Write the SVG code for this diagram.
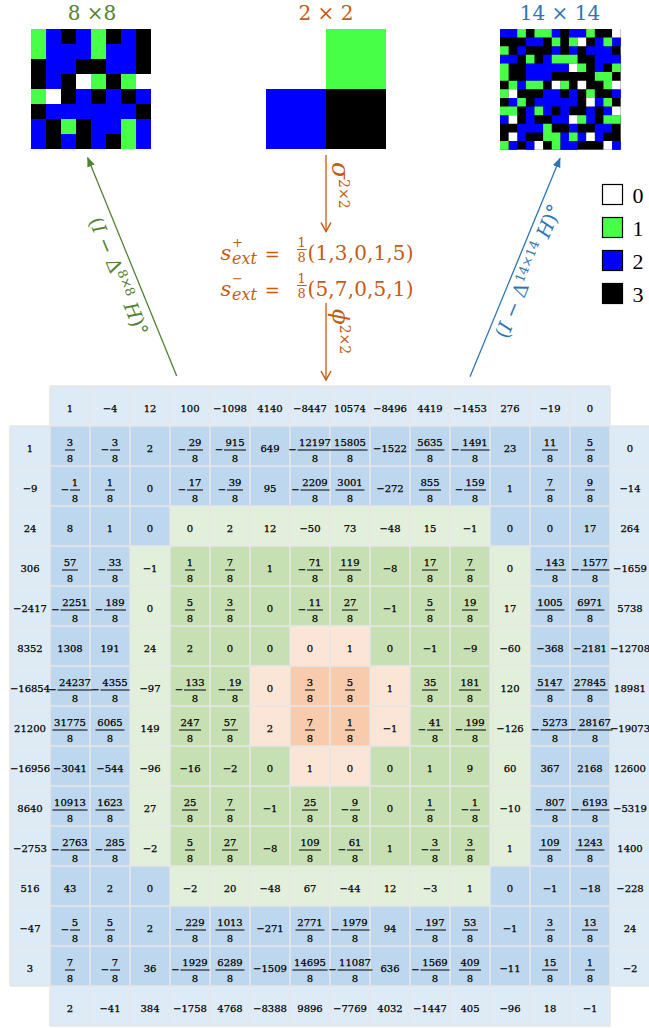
<svg xmlns="http://www.w3.org/2000/svg" width="649" height="1028" viewBox="0 0 649 1028">
<style>
.tb text{font-family:"DejaVu Serif",serif;font-size:10px;text-anchor:middle;fill:#000;stroke:#000;stroke-width:0.25}
.tb path{stroke:#000;stroke-width:1;fill:none}
.lab{font-family:"DejaVu Serif",serif;font-size:20px;text-anchor:middle}
.m{font-family:"DejaVu Serif",serif;fill:#C55A11}
.leg{font-family:"Liberation Serif",serif;font-size:22px;text-anchor:middle;fill:#000}
.it{font-style:italic}
.g{fill:#48FF48}.bl{fill:#0000FF}.k{fill:#000}.w{fill:#fff}
.ob{fill:#DDEBF7}.ib{fill:#BDD7EE}.lg{fill:#E2EFDA}.gr{fill:#C6E0B4}.lo{fill:#FBE5D6}.or{fill:#F8CBAD}
</style>
<defs>
<marker id="mg" viewBox="0 0 10 8" refX="9" refY="4" markerWidth="10" markerHeight="8" markerUnits="userSpaceOnUse" orient="auto"><path d="M0 0L10 4L0 8z" fill="#548235"/></marker>
<marker id="mb" viewBox="0 0 10 8" refX="9" refY="4" markerWidth="10" markerHeight="8" markerUnits="userSpaceOnUse" orient="auto"><path d="M0 0L10 4L0 8z" fill="#2E75B6"/></marker>
<marker id="mo" viewBox="0 0 12 12" refX="10.5" refY="6" markerWidth="12" markerHeight="12" markerUnits="userSpaceOnUse" orient="auto"><path d="M1.5 1L10.5 6L1.5 11" fill="none" stroke="#C55A11" stroke-width="1.5"/></marker>
</defs>
<rect width="649" height="1028" fill="#fff"/>

<g id="img8">
<text class="lab" x="92" y="19.5" fill="#548235">8 ×8</text>
<rect x="31" y="29" width="120" height="120" class="bl"/>
<path class="g" d="M31 29h15v30h-15z M91 29h15v30h-15z M91 74h15v15h-15z M121 74h15v15h-15z M31 89h15v15h-15z M61 119h15v15h-15z M121 119h15v30h-15z"/>
<path class="k" d="M61 29h15v15h-15z M106 29h15v15h-15z M136 29h15v45h-15z M31 59h15v30h-15z M76 59h30v15h-30z M61 74h15v30h-15z M106 74h15v15h-15z M91 89h15v15h-15z M121 89h15v15h-15z M31 104h15v15h-15z M136 104h15v15h-15z M46 119h15v30h-15z M76 119h15v30h-15z M106 134h15v15h-15z"/>
<path class="w" d="M76 74h15v15h-15z M136 74h15v15h-15z M46 89h15v15h-15z"/>
</g>

<g id="img2">
<text class="lab" x="326" y="19.5" fill="#C55A11">2 × 2</text>
<rect x="326" y="29" width="60" height="60" class="g"/>
<rect x="266" y="89" width="60" height="60" class="bl"/>
<rect x="326" y="89" width="60" height="60" class="k"/>
</g>

<g id="img14">
<text class="lab" x="560" y="19.5" fill="#2E75B6">14 × 14</text>
<g transform="translate(500,29) scale(8.62)">
<rect width="14" height="14" class="k"/>
<path class="bl" d="M0 0h2v1h-2z M6 0h1v1h-1z M8 0h2v1h-2z M3 1h2v1h-2z M11 1h1v1h-1z M13 1h1v1h-1z M2 2h1v1h-1z M6 2h1v1h-1z M8 2h1v1h-1z M10 2h3v1h-3z M0 3h2v1h-2z M5 3h1v1h-1z M11 3h3v1h-3z M3 4h5v1h-5z M11 4h1v1h-1z M3 5h3v1h-3z M2 6h1v1h-1z M5 7h2v1h-2z M8 7h1v1h-1z M13 7h1v1h-1z M1 8h1v1h-1z M4 8h5v1h-5z M11 8h1v1h-1z M3 9h1v1h-1z M5 9h1v1h-1z M7 9h1v1h-1z M10 9h1v1h-1z M12 9h1v1h-1z M0 10h1v1h-1z M3 10h1v1h-1z M6 10h2v1h-2z M10 10h1v1h-1z M2 11h3v1h-3z M8 11h1v1h-1z M11 11h2v1h-2z M2 12h1v1h-1z M7 12h1v1h-1z M9 12h1v1h-1z M11 12h1v1h-1z M1 13h1v1h-1z M3 13h1v1h-1z M7 13h2v1h-2z M13 13h1v1h-1z"/>
<path class="g" d="M2 0h1v1h-1z M4 0h2v1h-2z M10 0h1v1h-1z M6 1h1v1h-1z M8 1h1v1h-1z M12 1h1v1h-1z M0 2h1v1h-1z M3 3h1v1h-1z M6 3h3v1h-3z M0 4h1v1h-1z M9 4h1v1h-1z M13 4h1v1h-1z M0 5h1v1h-1z M11 5h2v1h-2z M1 6h1v1h-1z M3 6h2v1h-2z M7 6h1v1h-1z M12 6h1v1h-1z M0 7h1v1h-1z M10 7h1v1h-1z M2 8h1v1h-1z M12 8h1v1h-1z M0 9h2v1h-2z M4 9h1v1h-1z M9 10h1v1h-1z M12 10h2v1h-2z M5 11h1v1h-1z M5 12h2v1h-2z M8 12h1v1h-1z M0 13h1v1h-1z M6 13h1v1h-1z"/>
<path class="w" d="M13 0h1v1h-1z M9 1h1v1h-1z M8 4h1v1h-1z M6 6h1v1h-1z M9 6h1v1h-1z M13 6h1v1h-1z M1 7h1v1h-1z M10 8h1v1h-1z M13 9h1v1h-1z M1 10h1v1h-1z M8 10h1v1h-1z M1 12h1v1h-1z M10 12h1v1h-1z M4 13h1v1h-1z M12 13h1v1h-1z"/>
</g>
</g>

<g id="legend">
<rect x="602.5" y="184.5" width="20" height="20" class="w" stroke="#000" stroke-width="1.2"/>
<rect x="602.5" y="217.5" width="20" height="20" class="g" stroke="#000" stroke-width="1.2"/>
<rect x="602.5" y="250.5" width="20" height="20" class="bl" stroke="#000" stroke-width="1.2"/>
<rect x="602.5" y="283.5" width="20" height="20" class="k" stroke="#000" stroke-width="1.2"/>
<text class="leg" x="638" y="202.5">0</text>
<text class="leg" x="638" y="235.5">1</text>
<text class="leg" x="638" y="268.5">2</text>
<text class="leg" x="638" y="301.5">3</text>
</g>

<g id="connectors" fill="none" stroke-width="1.3">
<path d="M176.7 376L87.7 157.7" stroke="#548235" marker-end="url(#mg)"/>
<path d="M470 376.7L560 158.3" stroke="#2E75B6" marker-end="url(#mb)"/>
<path d="M326 155V231.5" stroke="#C55A11" marker-end="url(#mo)"/>
<path d="M326 303V380" stroke="#C55A11" marker-end="url(#mo)"/>
</g>

<g id="labels">
<text transform="translate(112.4,279) rotate(67.8)" text-anchor="middle" font-family="DejaVu Serif, serif" font-size="19.5" fill="#548235">(<tspan class="it">I</tspan> − Δ<tspan font-size="13" dy="-7">8×8</tspan><tspan dy="7"> </tspan><tspan class="it">H</tspan>)°</text>
<text transform="translate(534.5,273.8) rotate(-67.6)" text-anchor="middle" font-family="DejaVu Serif, serif" font-size="19.5" fill="#2E75B6">(<tspan class="it">I</tspan> − Δ<tspan font-size="13" dy="-7">14×14</tspan><tspan dy="7"> </tspan><tspan class="it">H</tspan>)°</text>
<text transform="translate(332,162) rotate(90)" class="m it" font-size="25">σ<tspan font-size="14" font-style="normal" dy="-7">2×2</tspan></text>
<text transform="translate(333,309) rotate(90)" class="m it" font-size="23">ϕ<tspan font-size="14" font-style="normal" dy="-7">2×2</tspan></text>
</g>

<g id="formula" class="m">
<text x="220.5" y="260" class="it" font-size="21">s</text>
<text x="232" y="247" font-size="13">+</text>
<text x="232" y="264" class="it" font-size="16">ext</text>
<text x="272.3" y="261" font-size="18" text-anchor="middle">=</text>
<text x="301.7" y="247" font-size="13" text-anchor="middle">1</text>
<path d="M297 249.5H306.7" stroke="#C55A11" stroke-width="1"/>
<text x="301.7" y="262" font-size="13" text-anchor="middle">8</text>
<text x="307.5" y="260" font-size="20" textLength="106">(1,3,0,1,5)</text>
<text x="220.5" y="296" class="it" font-size="21">s</text>
<text x="232" y="283" font-size="13">−</text>
<text x="232" y="300" class="it" font-size="16">ext</text>
<text x="272.3" y="297" font-size="18" text-anchor="middle">=</text>
<text x="301.7" y="283" font-size="13" text-anchor="middle">1</text>
<path d="M297 285.5H306.7" stroke="#C55A11" stroke-width="1"/>
<text x="301.7" y="298" font-size="13" text-anchor="middle">8</text>
<text x="307.5" y="296" font-size="20" textLength="106">(5,7,0,5,1)</text>
</g>

<g id="table">
<rect x="50" y="386" width="560" height="40" class="ob"/>
<rect x="50" y="986" width="560" height="40" class="ob"/>
<rect x="10" y="426" width="40" height="560" class="ob"/>
<rect x="610" y="426" width="39" height="560" class="ob"/>
<rect x="50" y="426" width="560" height="560" class="ib"/>
<rect x="130" y="506" width="400" height="400" class="lg"/>
<rect x="130" y="506" width="40" height="40" class="ib"/>
<rect x="490" y="506" width="40" height="40" class="ib"/>
<rect x="130" y="866" width="40" height="40" class="ib"/>
<rect x="490" y="866" width="40" height="40" class="ib"/>
<rect x="170" y="546" width="320" height="320" class="gr"/>
<rect x="250" y="626" width="160" height="160" class="lo"/>
<rect x="250" y="626" width="40" height="40" class="gr"/>
<rect x="370" y="626" width="40" height="40" class="gr"/>
<rect x="250" y="746" width="40" height="40" class="gr"/>
<rect x="370" y="746" width="40" height="40" class="gr"/>
<rect x="290" y="666" width="80" height="80" class="or"/>
<path fill="none" stroke="#E6E6E6" stroke-width="1.6" d="M50 386H610 M10 426H649 M10 466H649 M10 506H649 M10 546H649 M10 586H649 M10 626H649 M10 666H649 M10 706H649 M10 746H649 M10 786H649 M10 826H649 M10 866H649 M10 906H649 M10 946H649 M10 986H649 M50 1026H610 M10 426V986 M50 386V1026 M90 386V1026 M130 386V1026 M170 386V1026 M210 386V1026 M250 386V1026 M290 386V1026 M330 386V1026 M370 386V1026 M410 386V1026 M450 386V1026 M490 386V1026 M530 386V1026 M570 386V1026 M610 386V1026"/>
</g>

<g class="tb" id="values">
<g id="hdr" transform="translate(0,406)">
<text x="70" y="6">1</text><text x="110" y="6">−4</text><text x="150" y="6">12</text><text x="190" y="6">100</text><text x="230" y="6">−1098</text><text x="270" y="6">4140</text><text x="310" y="6">−8447</text><text x="350" y="6">10574</text><text x="390" y="6">−8496</text><text x="430" y="6">4419</text><text x="470" y="6">−1453</text><text x="510" y="6">276</text><text x="550" y="6">−19</text><text x="590" y="6">0</text>
</g>
<g id="r1" transform="translate(0,446)">
<text x="30" y="6">1</text>
<g transform="translate(70,0)"><text>3</text><path d="M-5 4h10"/><text y="16">8</text></g>
<g transform="translate(110,0)"><text x="-5" y="7">−</text><text x="5">3</text><path d="M0 4h10"/><text x="5" y="16">8</text></g>
<text x="150" y="6">2</text>
<g transform="translate(190,0)"><text x="-8" y="7">−</text><text x="5">29</text><path d="M-3 4h16"/><text x="5" y="16">8</text></g>
<g transform="translate(230,0)"><text x="-11" y="7">−</text><text x="5">915</text><path d="M-6 4h22"/><text x="5" y="16">8</text></g>
<text x="270" y="6">649</text>
<g transform="translate(310,0)"><text x="-17.5" y="7">−</text><text x="5">12197</text><path d="M-12.5 4h35"/><text x="5" y="16">8</text></g>
<g transform="translate(350,0)"><text>15805</text><path d="M-17.5 4h35"/><text y="16">8</text></g>
<text x="390" y="6">−1522</text>
<g transform="translate(430,0)"><text>5635</text><path d="M-14.5 4h29"/><text y="16">8</text></g>
<g transform="translate(470,0)"><text x="-14.5" y="7">−</text><text x="5">1491</text><path d="M-9.5 4h29"/><text x="5" y="16">8</text></g>
<text x="510" y="6">23</text>
<g transform="translate(550,0)"><text>11</text><path d="M-8 4h16"/><text y="16">8</text></g>
<g transform="translate(590,0)"><text>5</text><path d="M-5 4h10"/><text y="16">8</text></g>
<text x="630" y="6">0</text>
</g>
<g id="r2" transform="translate(0,486)">
<text x="30" y="6">−9</text>
<g transform="translate(70,0)"><text x="-5" y="7">−</text><text x="5">1</text><path d="M0 4h10"/><text x="5" y="16">8</text></g>
<g transform="translate(110,0)"><text>1</text><path d="M-5 4h10"/><text y="16">8</text></g>
<text x="150" y="6">0</text>
<g transform="translate(190,0)"><text x="-8" y="7">−</text><text x="5">17</text><path d="M-3 4h16"/><text x="5" y="16">8</text></g>
<g transform="translate(230,0)"><text x="-8" y="7">−</text><text x="5">39</text><path d="M-3 4h16"/><text x="5" y="16">8</text></g>
<text x="270" y="6">95</text>
<g transform="translate(310,0)"><text x="-14.5" y="7">−</text><text x="5">2209</text><path d="M-9.5 4h29"/><text x="5" y="16">8</text></g>
<g transform="translate(350,0)"><text>3001</text><path d="M-14.5 4h29"/><text y="16">8</text></g>
<text x="390" y="6">−272</text>
<g transform="translate(430,0)"><text>855</text><path d="M-11 4h22"/><text y="16">8</text></g>
<g transform="translate(470,0)"><text x="-11" y="7">−</text><text x="5">159</text><path d="M-6 4h22"/><text x="5" y="16">8</text></g>
<text x="510" y="6">1</text>
<g transform="translate(550,0)"><text>7</text><path d="M-5 4h10"/><text y="16">8</text></g>
<g transform="translate(590,0)"><text>9</text><path d="M-5 4h10"/><text y="16">8</text></g>
<text x="630" y="6">−14</text>
</g>
<g id="r3" transform="translate(0,526)">
<text x="30" y="6">24</text><text x="70" y="6">8</text><text x="110" y="6">1</text><text x="150" y="6">0</text><text x="190" y="6">0</text><text x="230" y="6">2</text><text x="270" y="6">12</text><text x="310" y="6">−50</text><text x="350" y="6">73</text><text x="390" y="6">−48</text><text x="430" y="6">15</text><text x="470" y="6">−1</text><text x="510" y="6">0</text><text x="550" y="6">0</text><text x="590" y="6">17</text><text x="630" y="6">264</text>
</g>
<g id="r4" transform="translate(0,566)">
<text x="30" y="6">306</text>
<g transform="translate(70,0)"><text>57</text><path d="M-8 4h16"/><text y="16">8</text></g>
<g transform="translate(110,0)"><text x="-8" y="7">−</text><text x="5">33</text><path d="M-3 4h16"/><text x="5" y="16">8</text></g>
<text x="150" y="6">−1</text>
<g transform="translate(190,0)"><text>1</text><path d="M-5 4h10"/><text y="16">8</text></g>
<g transform="translate(230,0)"><text>7</text><path d="M-5 4h10"/><text y="16">8</text></g>
<text x="270" y="6">1</text>
<g transform="translate(310,0)"><text x="-8" y="7">−</text><text x="5">71</text><path d="M-3 4h16"/><text x="5" y="16">8</text></g>
<g transform="translate(350,0)"><text>119</text><path d="M-11 4h22"/><text y="16">8</text></g>
<text x="390" y="6">−8</text>
<g transform="translate(430,0)"><text>17</text><path d="M-8 4h16"/><text y="16">8</text></g>
<g transform="translate(470,0)"><text>7</text><path d="M-5 4h10"/><text y="16">8</text></g>
<text x="510" y="6">0</text>
<g transform="translate(550,0)"><text x="-11" y="7">−</text><text x="5">143</text><path d="M-6 4h22"/><text x="5" y="16">8</text></g>
<g transform="translate(590,0)"><text x="-14.5" y="7">−</text><text x="5">1577</text><path d="M-9.5 4h29"/><text x="5" y="16">8</text></g>
<text x="630" y="6">−1659</text>
</g>
<g id="r5" transform="translate(0,606)">
<text x="30" y="6">−2417</text>
<g transform="translate(70,0)"><text x="-14.5" y="7">−</text><text x="5">2251</text><path d="M-9.5 4h29"/><text x="5" y="16">8</text></g>
<g transform="translate(110,0)"><text x="-11" y="7">−</text><text x="5">189</text><path d="M-6 4h22"/><text x="5" y="16">8</text></g>
<text x="150" y="6">0</text>
<g transform="translate(190,0)"><text>5</text><path d="M-5 4h10"/><text y="16">8</text></g>
<g transform="translate(230,0)"><text>3</text><path d="M-5 4h10"/><text y="16">8</text></g>
<text x="270" y="6">0</text>
<g transform="translate(310,0)"><text x="-8" y="7">−</text><text x="5">11</text><path d="M-3 4h16"/><text x="5" y="16">8</text></g>
<g transform="translate(350,0)"><text>27</text><path d="M-8 4h16"/><text y="16">8</text></g>
<text x="390" y="6">−1</text>
<g transform="translate(430,0)"><text>5</text><path d="M-5 4h10"/><text y="16">8</text></g>
<g transform="translate(470,0)"><text>19</text><path d="M-8 4h16"/><text y="16">8</text></g>
<text x="510" y="6">17</text>
<g transform="translate(550,0)"><text>1005</text><path d="M-14.5 4h29"/><text y="16">8</text></g>
<g transform="translate(590,0)"><text>6971</text><path d="M-14.5 4h29"/><text y="16">8</text></g>
<text x="630" y="6">5738</text>
</g>
<g id="r6" transform="translate(0,646)">
<text x="30" y="6">8352</text><text x="70" y="6">1308</text><text x="110" y="6">191</text><text x="150" y="6">24</text><text x="190" y="6">2</text><text x="230" y="6">0</text><text x="270" y="6">0</text><text x="310" y="6">0</text><text x="350" y="6">1</text><text x="390" y="6">0</text><text x="430" y="6">−1</text><text x="470" y="6">−9</text><text x="510" y="6">−60</text><text x="550" y="6">−368</text><text x="590" y="6">−2181</text><text x="630" y="6">−12708</text>
</g>
<g id="r7" transform="translate(0,686)">
<text x="30" y="6">−16854</text>
<g transform="translate(70,0)"><text x="-17.5" y="7">−</text><text x="5">24237</text><path d="M-12.5 4h35"/><text x="5" y="16">8</text></g>
<g transform="translate(110,0)"><text x="-14.5" y="7">−</text><text x="5">4355</text><path d="M-9.5 4h29"/><text x="5" y="16">8</text></g>
<text x="150" y="6">−97</text>
<g transform="translate(190,0)"><text x="-11" y="7">−</text><text x="5">133</text><path d="M-6 4h22"/><text x="5" y="16">8</text></g>
<g transform="translate(230,0)"><text x="-8" y="7">−</text><text x="5">19</text><path d="M-3 4h16"/><text x="5" y="16">8</text></g>
<text x="270" y="6">0</text>
<g transform="translate(310,0)"><text>3</text><path d="M-5 4h10"/><text y="16">8</text></g>
<g transform="translate(350,0)"><text>5</text><path d="M-5 4h10"/><text y="16">8</text></g>
<text x="390" y="6">1</text>
<g transform="translate(430,0)"><text>35</text><path d="M-8 4h16"/><text y="16">8</text></g>
<g transform="translate(470,0)"><text>181</text><path d="M-11 4h22"/><text y="16">8</text></g>
<text x="510" y="6">120</text>
<g transform="translate(550,0)"><text>5147</text><path d="M-14.5 4h29"/><text y="16">8</text></g>
<g transform="translate(590,0)"><text>27845</text><path d="M-17.5 4h35"/><text y="16">8</text></g>
<text x="630" y="6">18981</text>
</g>
<g id="r8" transform="translate(0,726)">
<text x="30" y="6">21200</text>
<g transform="translate(70,0)"><text>31775</text><path d="M-17.5 4h35"/><text y="16">8</text></g>
<g transform="translate(110,0)"><text>6065</text><path d="M-14.5 4h29"/><text y="16">8</text></g>
<text x="150" y="6">149</text>
<g transform="translate(190,0)"><text>247</text><path d="M-11 4h22"/><text y="16">8</text></g>
<g transform="translate(230,0)"><text>57</text><path d="M-8 4h16"/><text y="16">8</text></g>
<text x="270" y="6">2</text>
<g transform="translate(310,0)"><text>7</text><path d="M-5 4h10"/><text y="16">8</text></g>
<g transform="translate(350,0)"><text>1</text><path d="M-5 4h10"/><text y="16">8</text></g>
<text x="390" y="6">−1</text>
<g transform="translate(430,0)"><text x="-8" y="7">−</text><text x="5">41</text><path d="M-3 4h16"/><text x="5" y="16">8</text></g>
<g transform="translate(470,0)"><text x="-11" y="7">−</text><text x="5">199</text><path d="M-6 4h22"/><text x="5" y="16">8</text></g>
<text x="510" y="6">−126</text>
<g transform="translate(550,0)"><text x="-14.5" y="7">−</text><text x="5">5273</text><path d="M-9.5 4h29"/><text x="5" y="16">8</text></g>
<g transform="translate(590,0)"><text x="-17.5" y="7">−</text><text x="5">28167</text><path d="M-12.5 4h35"/><text x="5" y="16">8</text></g>
<text x="630" y="6">−19073</text>
</g>
<g id="r9" transform="translate(0,766)">
<text x="30" y="6">−16956</text><text x="70" y="6">−3041</text><text x="110" y="6">−544</text><text x="150" y="6">−96</text><text x="190" y="6">−16</text><text x="230" y="6">−2</text><text x="270" y="6">0</text><text x="310" y="6">1</text><text x="350" y="6">0</text><text x="390" y="6">0</text><text x="430" y="6">1</text><text x="470" y="6">9</text><text x="510" y="6">60</text><text x="550" y="6">367</text><text x="590" y="6">2168</text><text x="630" y="6">12600</text>
</g>
<g id="r10" transform="translate(0,806)">
<text x="30" y="6">8640</text>
<g transform="translate(70,0)"><text>10913</text><path d="M-17.5 4h35"/><text y="16">8</text></g>
<g transform="translate(110,0)"><text>1623</text><path d="M-14.5 4h29"/><text y="16">8</text></g>
<text x="150" y="6">27</text>
<g transform="translate(190,0)"><text>25</text><path d="M-8 4h16"/><text y="16">8</text></g>
<g transform="translate(230,0)"><text>7</text><path d="M-5 4h10"/><text y="16">8</text></g>
<text x="270" y="6">−1</text>
<g transform="translate(310,0)"><text>25</text><path d="M-8 4h16"/><text y="16">8</text></g>
<g transform="translate(350,0)"><text x="-5" y="7">−</text><text x="5">9</text><path d="M0 4h10"/><text x="5" y="16">8</text></g>
<text x="390" y="6">0</text>
<g transform="translate(430,0)"><text>1</text><path d="M-5 4h10"/><text y="16">8</text></g>
<g transform="translate(470,0)"><text x="-5" y="7">−</text><text x="5">1</text><path d="M0 4h10"/><text x="5" y="16">8</text></g>
<text x="510" y="6">−10</text>
<g transform="translate(550,0)"><text x="-11" y="7">−</text><text x="5">807</text><path d="M-6 4h22"/><text x="5" y="16">8</text></g>
<g transform="translate(590,0)"><text x="-14.5" y="7">−</text><text x="5">6193</text><path d="M-9.5 4h29"/><text x="5" y="16">8</text></g>
<text x="630" y="6">−5319</text>
</g>
<g id="r11" transform="translate(0,846)">
<text x="30" y="6">−2753</text>
<g transform="translate(70,0)"><text x="-14.5" y="7">−</text><text x="5">2763</text><path d="M-9.5 4h29"/><text x="5" y="16">8</text></g>
<g transform="translate(110,0)"><text x="-11" y="7">−</text><text x="5">285</text><path d="M-6 4h22"/><text x="5" y="16">8</text></g>
<text x="150" y="6">−2</text>
<g transform="translate(190,0)"><text>5</text><path d="M-5 4h10"/><text y="16">8</text></g>
<g transform="translate(230,0)"><text>27</text><path d="M-8 4h16"/><text y="16">8</text></g>
<text x="270" y="6">−8</text>
<g transform="translate(310,0)"><text>109</text><path d="M-11 4h22"/><text y="16">8</text></g>
<g transform="translate(350,0)"><text x="-8" y="7">−</text><text x="5">61</text><path d="M-3 4h16"/><text x="5" y="16">8</text></g>
<text x="390" y="6">1</text>
<g transform="translate(430,0)"><text x="-5" y="7">−</text><text x="5">3</text><path d="M0 4h10"/><text x="5" y="16">8</text></g>
<g transform="translate(470,0)"><text>3</text><path d="M-5 4h10"/><text y="16">8</text></g>
<text x="510" y="6">1</text>
<g transform="translate(550,0)"><text>109</text><path d="M-11 4h22"/><text y="16">8</text></g>
<g transform="translate(590,0)"><text>1243</text><path d="M-14.5 4h29"/><text y="16">8</text></g>
<text x="630" y="6">1400</text>
</g>
<g id="r12" transform="translate(0,886)">
<text x="30" y="6">516</text><text x="70" y="6">43</text><text x="110" y="6">2</text><text x="150" y="6">0</text><text x="190" y="6">−2</text><text x="230" y="6">20</text><text x="270" y="6">−48</text><text x="310" y="6">67</text><text x="350" y="6">−44</text><text x="390" y="6">12</text><text x="430" y="6">−3</text><text x="470" y="6">1</text><text x="510" y="6">0</text><text x="550" y="6">−1</text><text x="590" y="6">−18</text><text x="630" y="6">−228</text>
</g>
<g id="r13" transform="translate(0,926)">
<text x="30" y="6">−47</text>
<g transform="translate(70,0)"><text x="-5" y="7">−</text><text x="5">5</text><path d="M0 4h10"/><text x="5" y="16">8</text></g>
<g transform="translate(110,0)"><text>5</text><path d="M-5 4h10"/><text y="16">8</text></g>
<text x="150" y="6">2</text>
<g transform="translate(190,0)"><text x="-11" y="7">−</text><text x="5">229</text><path d="M-6 4h22"/><text x="5" y="16">8</text></g>
<g transform="translate(230,0)"><text>1013</text><path d="M-14.5 4h29"/><text y="16">8</text></g>
<text x="270" y="6">−271</text>
<g transform="translate(310,0)"><text>2771</text><path d="M-14.5 4h29"/><text y="16">8</text></g>
<g transform="translate(350,0)"><text x="-14.5" y="7">−</text><text x="5">1979</text><path d="M-9.5 4h29"/><text x="5" y="16">8</text></g>
<text x="390" y="6">94</text>
<g transform="translate(430,0)"><text x="-11" y="7">−</text><text x="5">197</text><path d="M-6 4h22"/><text x="5" y="16">8</text></g>
<g transform="translate(470,0)"><text>53</text><path d="M-8 4h16"/><text y="16">8</text></g>
<text x="510" y="6">−1</text>
<g transform="translate(550,0)"><text>3</text><path d="M-5 4h10"/><text y="16">8</text></g>
<g transform="translate(590,0)"><text>13</text><path d="M-8 4h16"/><text y="16">8</text></g>
<text x="630" y="6">24</text>
</g>
<g id="r14" transform="translate(0,966)">
<text x="30" y="6">3</text>
<g transform="translate(70,0)"><text>7</text><path d="M-5 4h10"/><text y="16">8</text></g>
<g transform="translate(110,0)"><text x="-5" y="7">−</text><text x="5">7</text><path d="M0 4h10"/><text x="5" y="16">8</text></g>
<text x="150" y="6">36</text>
<g transform="translate(190,0)"><text x="-14.5" y="7">−</text><text x="5">1929</text><path d="M-9.5 4h29"/><text x="5" y="16">8</text></g>
<g transform="translate(230,0)"><text>6289</text><path d="M-14.5 4h29"/><text y="16">8</text></g>
<text x="270" y="6">−1509</text>
<g transform="translate(310,0)"><text>14695</text><path d="M-17.5 4h35"/><text y="16">8</text></g>
<g transform="translate(350,0)"><text x="-17.5" y="7">−</text><text x="5">11087</text><path d="M-12.5 4h35"/><text x="5" y="16">8</text></g>
<text x="390" y="6">636</text>
<g transform="translate(430,0)"><text x="-14.5" y="7">−</text><text x="5">1569</text><path d="M-9.5 4h29"/><text x="5" y="16">8</text></g>
<g transform="translate(470,0)"><text>409</text><path d="M-11 4h22"/><text y="16">8</text></g>
<text x="510" y="6">−11</text>
<g transform="translate(550,0)"><text>15</text><path d="M-8 4h16"/><text y="16">8</text></g>
<g transform="translate(590,0)"><text>1</text><path d="M-5 4h10"/><text y="16">8</text></g>
<text x="630" y="6">−2</text>
</g>
<g id="ftr" transform="translate(0,1006)">
<text x="70" y="6">2</text><text x="110" y="6">−41</text><text x="150" y="6">384</text><text x="190" y="6">−1758</text><text x="230" y="6">4768</text><text x="270" y="6">−8388</text><text x="310" y="6">9896</text><text x="350" y="6">−7769</text><text x="390" y="6">4032</text><text x="430" y="6">−1447</text><text x="470" y="6">405</text><text x="510" y="6">−96</text><text x="550" y="6">18</text><text x="590" y="6">−1</text>
</g>
</g>
</svg>
